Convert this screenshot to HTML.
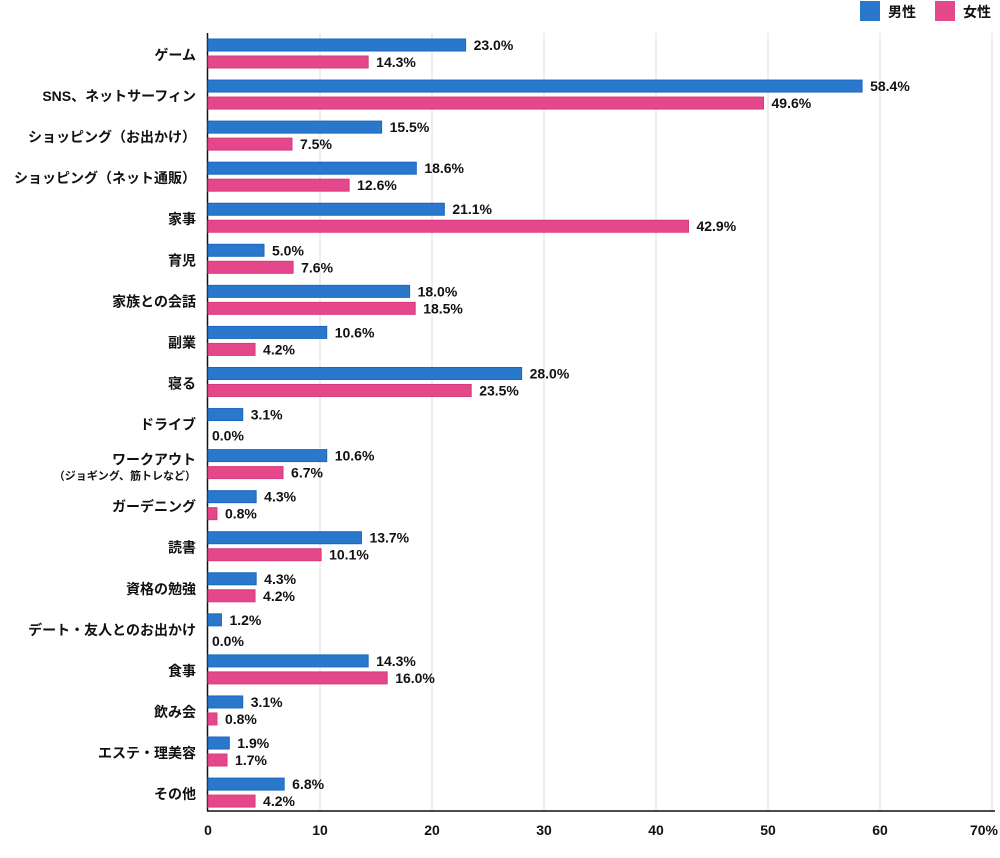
<!DOCTYPE html>
<html><head><meta charset="utf-8"><style>
body{margin:0;background:#fff;}
svg text{font-family:"Liberation Sans","Noto Sans CJK JP",sans-serif;font-weight:bold;fill:#111;}
</style></head><body>
<svg id="chart" width="1000" height="853" xmlns="http://www.w3.org/2000/svg">
<g id="grid"></g><g id="bars"></g><g id="labels"></g>
<g>
<rect x="860" y="1" width="20" height="20" fill="#2a78cc"/>
<text x="888" y="17" font-size="14">男性</text>
<rect x="935" y="1" width="20" height="20" fill="#e5488a"/>
<text x="963" y="17" font-size="14">女性</text>
</g>
</svg>
<script>
const categories=["ゲーム","SNS、ネットサーフィン","ショッピング（お出かけ）","ショッピング（ネット通販）","家事","育児","家族との会話","副業","寝る","ドライブ","ワークアウト","ガーデニング","読書","資格の勉強","デート・友人とのお出かけ","食事","飲み会","エステ・理美容","その他"];
const maleValues=[23.0,58.4,15.5,18.6,21.1,5.0,18.0,10.6,28.0,3.1,10.6,4.3,13.7,4.3,1.2,14.3,3.1,1.9,6.8];
const femaleValues=[14.3,49.6,7.5,12.6,42.9,7.6,18.5,4.2,23.5,0.0,6.7,0.8,10.1,4.2,0.0,16.0,0.8,1.7,4.2];
const xTicks=[0,10,20,30,40,50,60,70];
const NS="http://www.w3.org/2000/svg";
const x0=208,pxPer=11.2,top0=39,pitch=41.06;
const xs=v=>x0+v*pxPer;
function mk(tag,attrs,parent){const e=document.createElementNS(NS,tag);for(const k in attrs)e.setAttribute(k,attrs[k]);parent.appendChild(e);return e;}
const grid=document.getElementById('grid'),bars=document.getElementById('bars'),labels=document.getElementById('labels');
xTicks.forEach((t,i)=>{
  if(t>0){const l=mk('line',{x1:xs(t),x2:xs(t),y1:33,y2:811,stroke:'#ddd','stroke-width':1},grid);
  
  }
  const tx=mk('text',{x:xs(t)+(t===70?-8:0),y:835,'font-size':14,'text-anchor':'middle'},labels);
  tx.textContent=t+(t===70?'%':'');
  
  
});
const ax=mk('line',{x1:207.5,x2:207.5,y1:33,y2:811,stroke:'#111','stroke-width':1.5},grid);


const bx=mk('line',{x1:207,x2:995,y1:811,y2:811,stroke:'#111','stroke-width':1.5},grid);


categories.forEach((c,i)=>{
  const y=top0+i*pitch;
  [[maleValues[i],y,'#2a78cc','#1a66c0','male'],[femaleValues[i],y+17,'#e5488a','#d63a7c','female']].forEach(([v,by,f,s,k])=>{
    if(v>0){const r=mk('rect',{x:x0,y:by,width:v*pxPer,height:12,fill:f,stroke:s,'stroke-width':1},bars);
    
    }
    const t=mk('text',{x:xs(v)+(v>0?8:4),y:by+11+(v>0?0:4),'font-size':14},labels);
    t.textContent=v.toFixed(1)+'%';
    
    
  });
  const cy=y+21;
  if(c==='ワークアウト'){
    const t1=mk('text',{x:196,y:cy-6,'font-size':14,'text-anchor':'end'},labels);t1.textContent=c;
    
    
    const t2=mk('text',{x:196,y:cy+9,'font-size':11,'text-anchor':'end'},labels);t2.textContent='（ジョギング、筋トレなど）';
    
    
  } else {
    const t=mk('text',{x:196,y:cy,'font-size':14,'text-anchor':'end'},labels);t.textContent=c;
    
    
  }
});
</script>
</body></html>
